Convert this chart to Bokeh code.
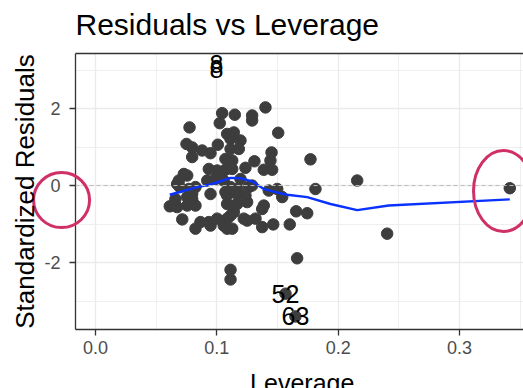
from bokeh.plotting import figure
from bokeh.models import FixedTicker, LinearAxis, Span
from bokeh.core.properties import value
from bokeh.embed import file_html
from bokeh.resources import INLINE

# ---- data ----
leverage = [0.1401, 0.1044, 0.1148, 0.1291, 0.1291, 0.1024, 0.0775, 0.1506, 0.1085, 0.1140,
            0.1113, 0.1195, 0.0750, 0.0797, 0.1008, 0.0879, 0.0948, 0.1181, 0.1113, 0.1451,
            0.0797, 0.1071, 0.1127, 0.1772, 0.1310, 0.1236, 0.0934, 0.1003, 0.1071, 0.1127,
            0.1387, 0.1456, 0.0756, 0.0687, 0.0921, 0.0989, 0.1057, 0.1195, 0.2157, 0.0695,
            0.0824, 0.1113, 0.1168, 0.1263, 0.1428, 0.1498, 0.1813, 0.0948, 0.0797, 0.0756,
            0.1085, 0.1168, 0.1539, 0.0612, 0.0673, 0.0756, 0.0824, 0.1250, 0.1168, 0.1140,
            0.1374, 0.1654, 0.1745, 0.0715, 0.1250, 0.1319, 0.1113, 0.0865, 0.0934, 0.0824,
            0.0948, 0.1057, 0.1085, 0.1127, 0.1374, 0.1465, 0.1601, 0.2404, 0.1662, 0.1113,
            0.1113, 0.1566, 0.1648, 0.0728, 0.0673, 0.1003, 0.0769, 0.1071, 0.0797, 0.0659,
            0.1442, 0.1291, 0.1236, 0.1140, 0.1387, 0.1085, 0.1222, 0.1003, 0.1085, 0.3415]
std_resid = [2.03, 1.88, 1.84, 1.82, 1.69, 1.62, 1.51, 1.37, 1.34, 1.38,
             1.21, 1.17, 1.08, 0.99, 1.06, 0.91, 0.84, 0.95, 0.95, 0.86,
             0.74, 0.69, 0.65, 0.68, 0.63, 0.46, 0.43, 0.39, 0.41, 0.43,
             0.41, 0.41, 0.26, 0.13, 0.13, 0.17, 0.13, 0.17, 0.13, -0.04,
             -0.04, -0.04, -0.09, -0.04, -0.13, -0.09, -0.09, -0.22, -0.22, -0.30,
             -0.26, -0.22, -0.30, -0.54, -0.56, -0.52, -0.52, -0.43, -0.48, -0.69,
             -0.61, -0.67, -0.72, -0.88, -0.91, -0.86, -0.78, -0.95, -0.95, -1.12,
             -1.04, -1.04, -1.12, -1.12, -1.08, -1.01, -1.01, -1.25, -1.89, -2.19,
             -2.44, -2.81, -3.40, 0.30, 0.04, 0.22, -0.09, -0.17, -0.35, -0.35,
             0.65, 0.00, -0.26, -0.52, -0.52, -0.86, -0.86, -0.86, -0.48, -0.07]

smooth_x = [0.0612, 0.0838, 0.0962, 0.1113, 0.1195, 0.1291, 0.1387, 0.1484, 0.1580, 0.1745,
            0.1937, 0.2157, 0.2417, 0.3415]
smooth_y = [-0.24, -0.04, 0.04, 0.20, 0.19, 0.11, -0.09, -0.17, -0.24, -0.30,
            -0.48, -0.64, -0.52, -0.36]

label_x = [0.0997, 0.0997, 0.1566, 0.1648]
label_y = [3.17, 3.04, -2.81, -3.40]
label_text = ["8", "8", "52", "63"]

x_ticks = [0.0, 0.1, 0.2, 0.3]
x_tick_labels = ["0.0", "0.1", "0.2", "0.3"]
x_minor = [0.05, 0.15, 0.25, 0.35]
y_ticks = [-2, 0, 2]
y_tick_labels = ["-2", "0", "2"]
y_minor = [-3, -1, 1, 3]

title_text = "Residuals vs Leverage"
x_title = "Leverage"
y_title = "Standardized Residuals"

# hand-drawn highlight circles (centre x, centre y, width, height)
mark_x = [-0.028, 0.3363]
mark_y = [-0.377, -0.143]
mark_w = [0.0462, 0.0494]
mark_h = [1.43, 2.10]

FONT = "Liberation Sans"
X0, X1 = -0.0165, 0.3528
Y0, Y1 = -3.74, 3.43
PX_X = 1213.3   # px per x unit
PX_Y = 38.5     # px per y unit

p = figure(width=523, height=388, x_range=(X0, X1), y_range=(Y0, Y1),
           output_backend="svg", toolbar_location=None,
           min_border_left=75, min_border_right=0, min_border_top=53, min_border_bottom=59,
           x_axis_location=None, y_axis_location=None)
p.outline_line_color = None
p.background_fill_color = "white"
p.border_fill_color = "white"

xax = LinearAxis(ticker=FixedTicker(ticks=x_ticks, minor_ticks=x_minor))
yax = LinearAxis(ticker=FixedTicker(ticks=y_ticks, minor_ticks=y_minor))
xax.major_label_overrides = {t: s for t, s in zip(x_ticks, x_tick_labels)}
yax.major_label_overrides = {t: s for t, s in zip(y_ticks, y_tick_labels)}
for ax in (xax, yax):
    ax.axis_line_color = "#333333"
    ax.axis_line_width = 1.3
    ax.major_tick_line_color = "#333333"
    ax.major_tick_line_width = 1.3
    ax.major_tick_out = 6
    ax.major_tick_in = 0
    ax.minor_tick_line_color = None
    ax.major_label_text_font = FONT
    ax.major_label_text_font_size = "18px"
    ax.major_label_text_color = "#4D4D4D"
xax.major_label_standoff = 5
yax.major_label_standoff = 9
p.add_layout(xax, "below")
p.add_layout(yax, "left")

top = LinearAxis(ticker=FixedTicker(ticks=[]))
top.axis_line_color = "#333333"
top.axis_line_width = 1.3
top.major_tick_line_color = None
top.minor_tick_line_color = None
top.major_label_text_font_size = "0px"
p.add_layout(top, "above")

p.xgrid.ticker = FixedTicker(ticks=x_ticks, minor_ticks=x_minor)
p.ygrid.ticker = FixedTicker(ticks=y_ticks, minor_ticks=y_minor)
for g in (p.xgrid, p.ygrid):
    g.grid_line_color = "#EBEBEB"
    g.grid_line_width = 1.4
    g.minor_grid_line_color = "#EBEBEB"
    g.minor_grid_line_width = 0.8

p.add_layout(Span(location=0, dimension="width", line_color="#BDBDBD",
                  line_dash="4 3", line_width=1))

p.scatter(leverage, std_resid, size=11.5, color="#3D3D3D")
p.line(smooth_x, smooth_y, line_color="#0A32FF", line_width=2.4)
p.text(label_x, label_y, text=label_text, text_font=value(FONT), text_font_size="25px",
       text_color="black", text_align="center", text_baseline="middle")

p.ellipse(mark_x, mark_y, width=mark_w, height=mark_h, fill_color=None,
          line_color="#D03068", line_width=3, level="overlay")

# titles as text glyphs placed relative to the frame
p.text([X0], [Y1 + 29.5 / PX_Y], text=[title_text], text_font=value(FONT),
       text_font_size="30px", text_color="black", text_align="left",
       text_baseline="alphabetic", level="overlay")
p.text([X0 - 51.0 / PX_X], [(Y0 + Y1) / 2], text=[y_title], angle=1.5708,
       text_font=value(FONT), text_font_size="26px", text_color="black",
       text_align="center", text_baseline="alphabetic", level="overlay")
p.text([0.1704], [Y0 - 54.0 / PX_Y], text=[x_title], text_font=value(FONT),
       text_font_size="25px", text_color="black", text_align="center",
       text_baseline="alphabetic", level="overlay")

open("out.html", "w").write(file_html(p, INLINE))
